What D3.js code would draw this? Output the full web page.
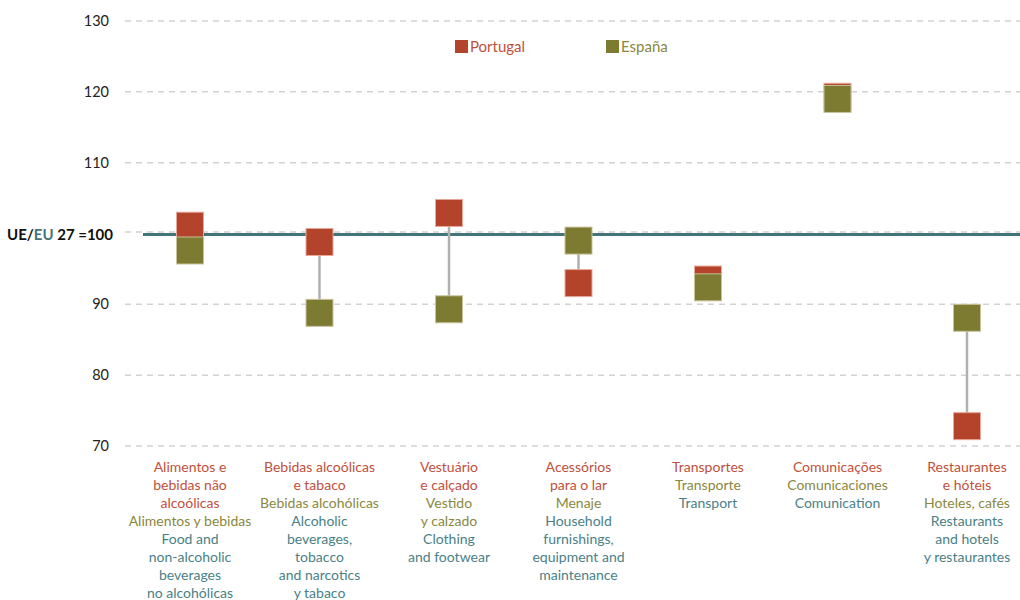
<!DOCTYPE html>
<html>
<head>
<meta charset="utf-8">
<title>Portugal / España price levels, UE/EU 27 = 100</title>
<script src="https://cdn.jsdelivr.net/npm/d3@7"></script>
<style>
    body {margin: 0; background: white;}
    svg {font-family: Lato, "Open Sans", sans-serif;}
    .grid line {stroke: #d2d2d2; stroke-width: 1.5; stroke-dasharray: 6 5;}
    .tick-label {font-size: 14.5px; fill: #222;}
</style>
</head>
<body>
<svg width="1020" height="600"></svg>
<script>
// categories (key + label lines: [text, language])
var categories = ["food", "alcohol", "clothing", "household", "transport", "communication", "restaurants"];
var labelLines = [
    [["Alimentos e","pt"],["bebidas não","pt"],["alcoólicas","pt"],["Alimentos y bebidas","es"],["Food and","en"],["non-alcoholic","en"],["beverages","en"],["no alcohólicas","en"]],
    [["Bebidas alcoólicas","pt"],["e tabaco","pt"],["Bebidas alcohólicas","es"],["Alcoholic","en"],["beverages,","en"],["tobacco","en"],["and narcotics","en"],["y tabaco","en"]],
    [["Vestuário","pt"],["e calçado","pt"],["Vestido","es"],["y calzado","es"],["Clothing","en"],["and footwear","en"]],
    [["Acessórios","pt"],["para o lar","pt"],["Menaje","es"],["Household","en"],["furnishings,","en"],["equipment and","en"],["maintenance","en"]],
    [["Transportes","pt"],["Transporte","es"],["Transport","en"]],
    [["Comunicações","pt"],["Comunicaciones","es"],["Comunication","en"]],
    [["Restaurantes","pt"],["e hóteis","pt"],["Hoteles, cafés","es"],["Restaurants","en"],["and hotels","en"],["y restaurantes","en"]]
];
// index values, UE/EU 27 = 100
var portugal = [101.1, 98.8, 102.9, 93.0, 93.5, 119.3, 72.8];
var espana   = [97.6, 88.8, 89.3, 99.0, 92.4, 119.0, 88.1];
var yTicks = [70, 80, 90, 100, 110, 120, 130];

var colPT = "#b3432a", colES = "#7d7a32", colEU = "#44747a";
var textCol = {pt: "#c0503a", es: "#8a8740", en: "#4a7f86"};

var svg = d3.select("svg");
var x = d3.scalePoint().domain(categories).range([190, 967]);
var y = d3.scaleLinear().domain([70, 130]).range([446, 21]);
var sq = 27;

// grid
svg.append("g").attr("class", "grid")
    .selectAll("line").data(yTicks).enter().append("line")
    .attr("x1", 125).attr("x2", 1020)
    .attr("y1", function(d){return y(d) - (d == 100 ? 1.5 : 0)})
    .attr("y2", function(d){return y(d) - (d == 100 ? 1.5 : 0)});

// tick labels
svg.append("g").selectAll("text").data(yTicks.filter(function(d){return d != 100}))
    .enter().append("text")
    .attr("class", "tick-label")
    .attr("x", 109).attr("y", function(d){return y(d)})
    .attr("dy", "0.35em").attr("text-anchor", "end")
    .text(function(d){return d});

// reference line at 100
svg.append("line")
    .attr("x1", 143).attr("x2", 1020)
    .attr("y1", y(100) + 1).attr("y2", y(100) + 1)
    .attr("stroke", colEU).attr("stroke-width", 3);

var ref = svg.append("text")
    .attr("x", 7).attr("y", y(100) + 1).attr("dy", "0.35em")
    .style("font-size", "15px").style("font-weight", "bold").attr("fill", "#111");
ref.append("tspan").text("UE/");
ref.append("tspan").attr("fill", colEU).text("EU");
ref.append("tspan").text(" 27 =100");

// connectors
svg.append("g").selectAll("line").data(categories).enter().append("line")
    .attr("x1", function(d){return x(d)}).attr("x2", function(d){return x(d)})
    .attr("y1", function(d, i){return y(portugal[i])})
    .attr("y2", function(d, i){return y(espana[i])})
    .attr("stroke", "#b0b0b0").attr("stroke-width", 2.5);

// squares
function drawSquares(vals, fill, stroke)
{
    svg.append("g").selectAll("rect").data(categories).enter().append("rect")
        .attr("x", function(d){return x(d) - sq / 2})
        .attr("y", function(d, i){return y(vals[i]) - sq / 2})
        .attr("width", sq).attr("height", sq)
        .attr("fill", fill).attr("stroke", stroke).attr("stroke-width", 1);
}
drawSquares(portugal, colPT, "#e8a898");
drawSquares(espana, colES, "#c8c49a");

// legend
var legend = [["Portugal", colPT, "#c0503a", 455], ["España", colES, "#8a8740", 606]];
legend.forEach(function(l){
    svg.append("rect").attr("x", l[3]).attr("y", 40).attr("width", 13).attr("height", 13).attr("fill", l[1]);
    svg.append("text").attr("x", l[3] + 15).attr("y", 47).attr("dy", "0.35em")
        .style("font-size", "15px").attr("fill", l[2]).text(l[0]);
});

// category labels
categories.forEach(function(c, i){
    var t = svg.append("text").attr("text-anchor", "middle").style("font-size", "14px");
    labelLines[i].forEach(function(ln, j){
        t.append("tspan").attr("x", x(c)).attr("y", 472 + j * 18)
            .attr("fill", textCol[ln[1]]).text(ln[0]);
    });
});
</script>
</body>
</html>
